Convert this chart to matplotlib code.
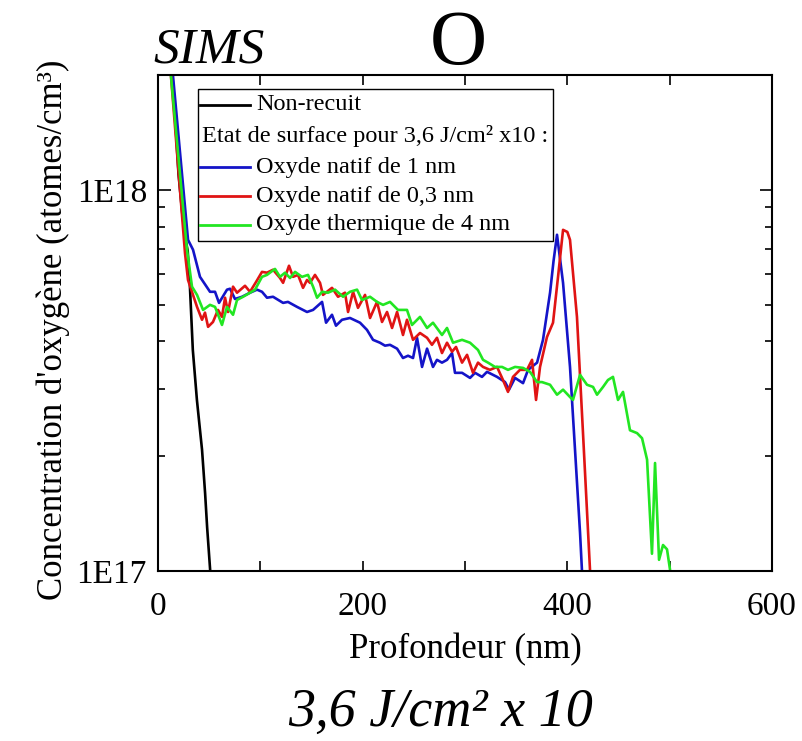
import numpy as np
import matplotlib
matplotlib.use("Agg")
import matplotlib.pyplot as plt
from matplotlib.ticker import FixedLocator, LogLocator, NullFormatter
from matplotlib.lines import Line2D
from matplotlib.patches import Rectangle

plt.rcParams['font.family'] = ['Liberation Serif', 'DejaVu Serif']

# SIMS oxygen profiles: depth (nm) and concentration (x 1e17 atomes/cm3)
depth_ref = np.array([13, 17, 20, 24, 27, 29, 31, 34, 38, 40, 43, 46, 48, 51, 53])
conc_ref = np.array([22.0, 15.0, 11.0, 8.5, 7.4, 6.9, 5.7, 3.8, 2.81, 2.49, 2.08,
                     1.6, 1.3, 1.0, 0.9])

depth_1nm = np.array([13.5, 14.7, 29.3, 34.2, 41.0, 50.8, 55.7, 59.6, 67.4, 70.4, 75.2,
                      82.1, 89.9, 96.7, 101.6, 106.5, 112.4, 122.2, 127.0, 135.8, 145.6,
                      151.5, 160.3, 164.2, 170.0, 173.9, 179.8, 187.6, 197.4, 204.2, 210.1,
                      216.9, 221.8, 226.7, 233.6, 239.4, 244.3, 249.2, 253.1, 258.0, 262.9,
                      268.7, 272.6, 277.5, 282.4, 287.3, 290.2, 297.1, 304.9, 309.8, 316.6,
                      321.5, 331.3, 339.1, 343.0, 348.9, 356.7, 361.6, 370.4, 376.2, 383.1,
                      386.5, 389.9, 395.8, 402.6, 412.4, 414.3, 416.0])
conc_1nm = np.array([22.0, 19.8, 7.39, 6.96, 5.91, 5.40, 5.40, 5.05, 5.47, 5.50, 5.17,
                     5.24, 5.37, 5.47, 5.40, 5.21, 5.24, 5.05, 5.08, 4.93, 4.78,
                     4.84, 5.08, 4.48, 4.70, 4.40, 4.56, 4.61, 4.48, 4.29, 4.04,
                     3.97, 3.90, 3.92, 3.83, 3.62, 3.67, 3.62, 4.09, 3.43, 3.83,
                     3.43, 3.58, 3.52, 3.58, 3.73, 3.31, 3.31, 3.21, 3.31, 3.23,
                     3.33, 3.23, 3.13, 2.99, 3.21, 3.11, 3.37, 3.52, 4.04, 5.37,
                     6.50, 7.62, 5.70, 3.43, 1.26, 1.0, 0.9])

depth_03nm = np.array([11.5, 12.7, 26.4, 29.3, 38.1, 43.0, 45.9, 48.9, 53.7, 58.6, 62.5,
                       65.5, 68.4, 73.3, 77.2, 85.0, 89.9, 95.8, 101.6, 106.5, 112.4,
                       119.2, 122.2, 128.0, 131.9, 136.8, 141.7, 145.6, 148.5, 153.4, 158.3,
                       161.2, 170.0, 175.9, 182.7, 185.7, 190.6, 195.4, 202.3, 207.2, 214.0,
                       218.9, 223.8, 228.7, 233.6, 239.4, 243.3, 249.2, 256.0, 262.9, 267.7,
                       272.6, 277.5, 282.4, 287.3, 291.2, 297.1, 302.0, 307.8, 312.7, 317.6,
                       324.4, 331.3, 337.1, 342.0, 346.9, 353.7, 360.6, 365.5, 369.4, 373.3,
                       380.1, 386.0, 390.9, 395.8, 400.0, 402.6, 409.4, 415.3, 422.2, 424.0])
conc_03nm = np.array([22.0, 19.8, 6.8, 5.80, 4.93, 4.56, 4.76, 4.37, 4.50, 4.84, 4.64,
                      5.21, 4.78, 5.57, 5.37, 5.60, 5.40, 5.73, 6.09, 6.06, 6.17,
                      5.87, 5.70, 6.32, 5.91, 5.98, 5.53, 5.80, 5.70, 5.98, 5.70,
                      5.30, 5.53, 5.24, 5.37, 4.78, 5.40, 4.90, 5.30, 4.61, 5.08,
                      4.50, 4.78, 4.34, 4.78, 4.16, 4.56, 4.04, 4.21, 4.09, 3.92,
                      4.09, 3.73, 3.97, 3.76, 3.87, 3.52, 3.69, 3.31, 3.52, 3.43,
                      3.37, 3.43, 3.17, 2.95, 3.23, 3.37, 3.37, 3.58, 2.81, 3.43,
                      4.11, 4.48, 5.91, 7.85, 7.75, 7.39, 4.64, 2.30, 1.0, 0.9])

depth_4nm = np.array([12.0, 12.7, 28.3, 33.2, 38.1, 44.0, 50.8, 55.7, 62.5, 67.4, 73.3,
                      77.2, 83.1, 89.9, 94.8, 101.6, 106.5, 114.3, 119.2, 124.1, 129.0,
                      133.9, 140.7, 146.6, 151.5, 155.4, 160.3, 166.1, 173.0, 180.8, 187.6,
                      194.5, 199.3, 207.2, 214.0, 219.9, 226.7, 234.5, 243.3, 248.2, 256.0,
                      262.9, 268.7, 277.5, 282.4, 288.3, 297.1, 304.9, 312.7, 317.6, 322.5,
                      329.3, 336.2, 342.0, 348.9, 356.7, 363.5, 370.4, 375.2, 383.1, 389.9,
                      395.8, 402.6, 405.5, 412.4, 419.2, 425.1, 429.0, 434.9, 439.7, 444.6,
                      449.5, 454.4, 461.2, 468.1, 473.0, 477.9, 482.7, 485.7, 489.6, 493.5,
                      497.4, 500.3, 501.0])
conc_4nm = np.array([22.0, 19.8, 6.96, 5.57, 5.30, 4.84, 4.99, 4.93, 4.42, 4.93, 4.70,
                     5.14, 5.24, 5.37, 5.47, 5.91, 5.98, 6.20, 5.91, 6.06, 5.87,
                     6.09, 5.91, 5.98, 5.57, 5.21, 5.40, 5.37, 5.47, 5.24, 5.40,
                     5.47, 5.14, 5.24, 5.08, 4.99, 5.08, 4.84, 4.84, 4.42, 4.64,
                     4.34, 4.48, 4.16, 4.34, 3.97, 4.04, 3.97, 3.80, 3.58, 3.52,
                     3.43, 3.43, 3.37, 3.43, 3.41, 3.33, 3.13, 3.13, 3.08, 2.90,
                     2.99, 2.86, 2.81, 3.27, 3.08, 3.04, 2.90, 3.04, 3.17, 3.23,
                     2.81, 2.95, 2.34, 2.30, 2.23, 1.96, 1.11, 1.92, 1.07, 1.17,
                     1.14, 1.01, 0.95])

labels = ["Non-recuit", "Oxyde natif de 1 nm", "Oxyde natif de 0,3 nm",
          "Oxyde thermique de 4 nm"]
colors = ["black", "#1414c8", "#e01414", "#22e622"]

fig = plt.figure(figsize=(8.03, 7.41), dpi=100)
ax = fig.add_axes([0.1968, 0.2294, 0.7646, 0.6694])

series = [(depth_ref, conc_ref), (depth_1nm, conc_1nm),
          (depth_03nm, conc_03nm), (depth_4nm, conc_4nm)]
for (d, c), col in zip(series, colors):
    ax.plot(d, c * 1e17, color=col, lw=1.9)

ax.set_yscale('log')
ax.set_xlim(0, 600)
ax.set_ylim(1e17, 2e18)

ax.xaxis.set_major_locator(FixedLocator([0, 200, 400, 600]))
ax.xaxis.set_minor_locator(FixedLocator([100, 300, 500]))
ax.yaxis.set_major_locator(FixedLocator([1e17, 1e18]))
ax.yaxis.set_minor_locator(LogLocator(base=10, subs=np.arange(2, 10)))
ax.yaxis.set_minor_formatter(NullFormatter())
ax.set_yticklabels(["1E17", "1E18"])

ax.tick_params(axis='both', which='both', direction='in', top=True, right=True,
               width=1.2, labelsize=24)
ax.tick_params(axis='x', which='both', length=7, pad=15)
ax.tick_params(axis='y', which='major', length=9, pad=8)
ax.tick_params(axis='y', which='minor', length=5)
for s in ax.spines.values():
    s.set_linewidth(1.5)

ax.set_xlabel("Profondeur (nm)", fontsize=25, labelpad=8)
ax.set_ylabel("Concentration d'oxygène (atomes/cm³)", fontsize=25)
ax.yaxis.set_label_coords(-0.143, 0.486)

# legend box with a heading line that has no handle
ax.add_patch(Rectangle((0.0651, 0.6653), 0.5782, 0.3065, transform=ax.transAxes,
                       facecolor='white', edgecolor='black', lw=1.0, zorder=5))
rows = [0.9395, 0.8145, 0.756, 0.6976]
for yy, lab, col in zip(rows, labels, colors):
    ax.add_line(Line2D([0.0684, 0.1498], [yy, yy], transform=ax.transAxes,
                       color=col, lw=2.0, zorder=6))
    ax.text(0.1596, yy, lab, transform=ax.transAxes, fontsize=17.5,
            va='center', ha='left', zorder=6)
ax.text(0.0717, 0.877, "Etat de surface pour 3,6 J/cm² x10 :", transform=ax.transAxes,
        fontsize=17.5, va='center', ha='left', zorder=6)

fig.text(0.1905, 0.915, "SIMS", fontsize=37, style='italic', va='baseline', ha='left')
fig.text(0.5704, 0.9136, "O", fontsize=57, va='baseline', ha='center')
fig.text(0.548, 0.0205, "3,6 J/cm² x 10", fontsize=39, style='italic',
         va='baseline', ha='center')

fig.savefig("out.png", dpi=100)
